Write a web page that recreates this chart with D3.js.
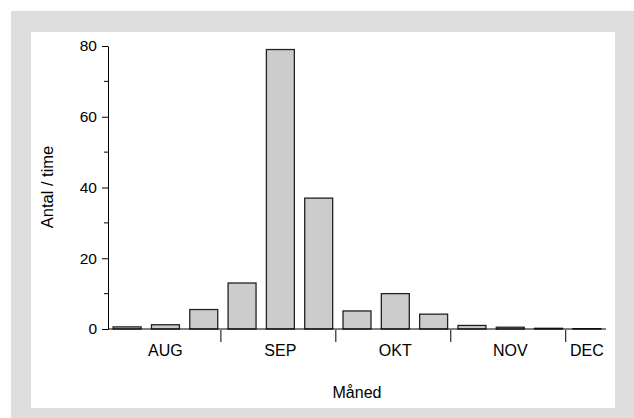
<!DOCTYPE html>
<html><head><meta charset="utf-8">
<script src="https://cdn.jsdelivr.net/npm/d3@7/dist/d3.min.js"></script>
<style>body{margin:0;background:#fff}svg{display:block}text{font-family:"Liberation Sans",Arial,sans-serif;fill:#000}</style>
</head><body>
<script>
const periods = ["AUG-1","AUG-2","AUG-3","SEP-1","SEP-2","SEP-3","OKT-1","OKT-2","OKT-3","NOV-1","NOV-2","NOV-3","DEC-1"];
const values = [0.6, 1.2, 5.5, 13, 79, 37, 5.1, 10, 4.2, 1.0, 0.5, 0.2, 0.1];
const months = ["AUG","SEP","OKT","NOV","DEC"];
const monthCounts = [3,3,3,3,1];
const yMajor = [0,20,40,60,80];
const yMinor = [10,30,50,70];

const W=634,H=418;
const svg=d3.select("body").append("svg").attr("width",W).attr("height",H);
svg.append("rect").attr("x",11).attr("y",11).attr("width",W-11).attr("height",H-11).attr("fill","#dedede");
svg.append("rect").attr("x",31).attr("y",32).attr("width",584).attr("height",376).attr("fill","#fff");

const x=d3.scaleBand().domain(periods).range([108,606]).paddingInner(0.27).paddingOuter(0.134);
const y=d3.scaleLinear().domain([0,80]).range([329,46]);

svg.append("g").selectAll("rect").data(values).join("rect")
 .attr("x",(d,i)=>x(periods[i])).attr("width",x.bandwidth())
 .attr("y",d=>y(d)).attr("height",d=>y(0)-y(d))
 .attr("fill","#cccccc").attr("stroke","#222").attr("stroke-width",1.3);

// y axis
const ya=svg.append("g").attr("transform","translate(108,0)")
 .call(d3.axisLeft(y).tickValues(yMajor).tickSize(6).tickSizeOuter(0).tickPadding(5));
ya.select(".domain").attr("stroke","#000");
ya.selectAll(".tick line").attr("stroke","#000");
ya.selectAll("text").style("font-size","15.5px").attr("font-family",null);
svg.append("g").selectAll("line").data(yMinor).join("line")
 .attr("x1",104).attr("x2",108).attr("y1",d=>y(d)).attr("y2",d=>y(d)).attr("stroke","#000");

// x baseline
svg.append("line").attr("x1",108).attr("x2",606).attr("y1",y(0)).attr("y2",y(0)).attr("stroke","#000");

// month ticks and labels
let start=0;
const step=x.step();
months.forEach((m,k)=>{
  const first=periods[start], last=periods[start+monthCounts[k]-1];
  const cx=(x(first)+x(last)+x.bandwidth())/2;
  svg.append("text").attr("x",cx).attr("y",356).attr("text-anchor","middle").style("font-size","16px").text(m);
  if(k>0){
    const bx=x(first)-step*0.27/2-2;
    svg.append("line").attr("x1",bx).attr("x2",bx).attr("y1",y(0)+1).attr("y2",y(0)+13).attr("stroke","#000");
  }
  start+=monthCounts[k];
});

svg.append("text").attr("x",357).attr("y",398).attr("text-anchor","middle").style("font-size","16px").text("Måned");
svg.append("text").attr("transform","translate(53,187) rotate(-90)").attr("text-anchor","middle").style("font-size","16.5px").text("Antal / time");
</script>
</body></html>
